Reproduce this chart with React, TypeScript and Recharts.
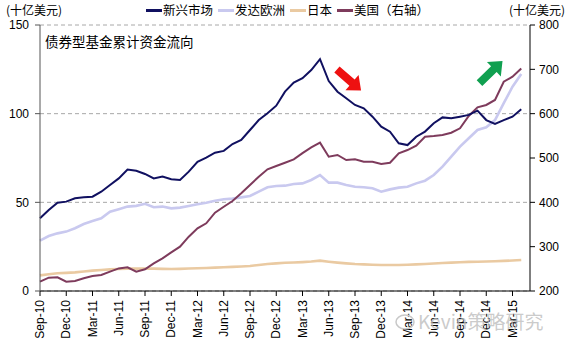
import React from 'react'
import { LineChart, Line, XAxis, YAxis, CartesianGrid } from 'recharts'

// month labels, Sep-10 .. Apr-15
const months = [
  'Sep-10', 'Oct-10', 'Nov-10', 'Dec-10',
  'Jan-11', 'Feb-11', 'Mar-11', 'Apr-11', 'May-11', 'Jun-11', 'Jul-11', 'Aug-11', 'Sep-11', 'Oct-11', 'Nov-11', 'Dec-11',
  'Jan-12', 'Feb-12', 'Mar-12', 'Apr-12', 'May-12', 'Jun-12', 'Jul-12', 'Aug-12', 'Sep-12', 'Oct-12', 'Nov-12', 'Dec-12',
  'Jan-13', 'Feb-13', 'Mar-13', 'Apr-13', 'May-13', 'Jun-13', 'Jul-13', 'Aug-13', 'Sep-13', 'Oct-13', 'Nov-13', 'Dec-13',
  'Jan-14', 'Feb-14', 'Mar-14', 'Apr-14', 'May-14', 'Jun-14', 'Jul-14', 'Aug-14', 'Sep-14', 'Oct-14', 'Nov-14', 'Dec-14',
  'Jan-15', 'Feb-15', 'Mar-15', 'Apr-15',
]

// 新兴市场 (left axis, bn USD)
const emerging = [
  41.0, 45.7, 49.8, 50.4, 52.3, 52.8, 53.2, 56.0, 59.8, 63.5, 68.5, 67.8, 66.0, 63.5, 64.5, 63.0,
  62.6, 67.3, 72.9, 75.2, 78.0, 79.0, 82.9, 85.2, 90.8, 96.4, 100.2, 104.5, 112.4, 117.5, 120.0, 124.6,
  130.7, 118.4, 112.4, 108.7, 104.9, 103.0, 98.3, 92.7, 89.8, 83.3, 82.3, 87.0, 89.9, 94.6, 97.9, 97.4,
  98.3, 99.3, 101.7, 96.4, 94.2, 96.4, 98.3, 102.5,
]

// 发达欧洲 (left axis)
const europe = [
  28.4, 31.0, 32.5, 33.5, 35.4, 37.8, 39.5, 41.0, 44.7, 46.1, 47.6, 48.0, 49.2, 47.2, 47.6, 46.6,
  47.0, 47.9, 48.9, 49.8, 50.9, 51.7, 52.1, 52.8, 53.6, 56.0, 58.5, 59.2, 59.4, 60.3, 60.7, 62.6,
  65.4, 61.1, 61.1, 59.8, 58.8, 58.5, 57.9, 56.0, 57.3, 58.3, 58.8, 60.7, 62.2, 65.4, 70.1, 75.8,
  81.4, 86.1, 90.8, 92.3, 96.4, 105.9, 115.2, 122.4,
]

// 日本 (left axis)
const japan = [
  8.8, 9.4, 10.0, 10.2, 10.5, 11.0, 11.5, 11.8, 12.2, 12.4, 12.6, 12.6, 12.6, 12.6, 12.5, 12.4,
  12.5, 12.7, 12.8, 13.0, 13.2, 13.4, 13.6, 13.8, 14.1, 14.7, 15.2, 15.6, 15.9, 16.1, 16.3, 16.6,
  17.1, 16.5, 16.0, 15.6, 15.2, 15.0, 14.8, 14.7, 14.7, 14.7, 14.8, 15.0, 15.2, 15.5, 15.8, 16.0,
  16.2, 16.4, 16.5, 16.6, 16.8, 17.0, 17.2, 17.5,
]

// 美国 (right axis)
const usa = [
  221, 230, 231, 221, 222.6, 228.6, 233.8, 236, 243.6, 251, 253.4, 243.6, 249, 262.4, 273.8, 287,
  300, 322.5, 341.4, 352.7, 376.6, 390, 403, 420.4, 439, 457.8, 474.5, 482, 489.4, 497, 511, 524,
  534.6, 503, 506.8, 495.5, 497, 491.7, 491.7, 486.5, 489.4, 510.6, 518, 528, 548, 549.7, 552, 557,
  567, 594.8, 614.4, 619.6, 631, 672, 683.4, 702,
]

const leftTicks = [0, 50, 100, 150]
const rightTicks = [200, 300, 400, 500, 600, 700, 800]
const quarterMonths = ['Sep', 'Dec', 'Mar', 'Jun']

const seriesInfo = [
  { key: 'emerging', name: '新兴市场', color: '#101060' },
  { key: 'europe', name: '发达欧洲', color: '#c9c9ef' },
  { key: 'japan', name: '日本', color: '#eacaa2' },
  { key: 'usa', name: '美国（右轴）', color: '#7e3b5c' },
]

const data = months.map((m, i) => ({
  idx: i,
  month: m,
  emerging: emerging[i],
  europe: europe[i],
  japan: japan[i],
  usa: usa[i],
}))

const xTicks = data.filter((d) => quarterMonths.includes(d.month.slice(0, 3))).map((d) => d.idx)

const numFont = '"Liberation Sans", Arial, sans-serif'
const cjkFont = '"Noto Sans CJK SC", "Noto Sans", sans-serif'

const MonthTick = ({ x, y, payload }: any) => (
  <text
    x={x + 4}
    y={y + 1}
    transform={`rotate(-90, ${x + 4}, ${y + 1})`}
    textAnchor="end"
    fontSize={12}
    fontFamily={numFont}
    fill="#000"
  >
    {months[payload.value]}
  </text>
)

const Arrow = ({ cx, cy, angle, color }: any) => (
  <g transform={`translate(${cx} ${cy}) rotate(${angle})`}>
    <polygon points="-16,-4 4,-4 4,-10 16,0 4,10 4,4 -16,4" fill={color} />
  </g>
)

export default function App() {
  return (
    <div style={{ position: 'absolute', left: 0, top: 0, width: 575, height: 358, background: '#fff' }}>
      <LineChart
        width={575}
        height={358}
        data={data}
        margin={{ top: 25, right: 0, left: 0, bottom: 0 }}
      >
        <CartesianGrid
          yAxisId="left"
          horizontal
          vertical={false}
          stroke="#a8a8a8"
          strokeDasharray="4 3"
        />
        <XAxis
          dataKey="idx"
          type="number"
          domain={[0, 56]}
          ticks={xTicks}
          interval={0}
          height={67}
          tickSize={5}
          tickMargin={3}
          tick={<MonthTick />}
          axisLine={{ stroke: '#000' }}
          tickLine={{ stroke: '#000' }}
        />
        <YAxis
          yAxisId="left"
          domain={[0, 150]}
          ticks={leftTicks}
          width={40}
          tickSize={5}
          tickMargin={6}
          tick={{ fontSize: 12, fontFamily: numFont, fill: '#000' }}
          axisLine={{ stroke: '#555' }}
          tickLine={{ stroke: '#555' }}
        />
        <YAxis
          yAxisId="right"
          orientation="right"
          domain={[200, 800]}
          ticks={rightTicks}
          width={45}
          tickSize={5}
          tickMargin={4}
          tick={{ fontSize: 12, fontFamily: numFont, fill: '#000', textAnchor: 'start' }}
          axisLine={{ stroke: '#000' }}
          tickLine={{ stroke: '#000' }}
        />
        <Line yAxisId="left" dataKey="japan" stroke="#eacaa2" strokeWidth={2.6} dot={false} isAnimationActive={false} />
        <Line yAxisId="left" dataKey="europe" stroke="#c9c9ef" strokeWidth={2.6} dot={false} isAnimationActive={false} />
        <Line yAxisId="right" dataKey="usa" stroke="#7e3b5c" strokeWidth={2} dot={false} isAnimationActive={false} />
        <Line yAxisId="left" dataKey="emerging" stroke="#101060" strokeWidth={2} dot={false} isAnimationActive={false} />
      </LineChart>

      {/* units */}
      <div style={{ position: 'absolute', left: 6, top: 4, fontSize: 12, lineHeight: 1, fontFamily: cjkFont, color: '#000' }}>
        (十亿美元)
      </div>
      <div style={{ position: 'absolute', left: 509, top: 4, fontSize: 12, lineHeight: 1, fontFamily: cjkFont, color: '#000' }}>
        (十亿美元)
      </div>

      {/* legend */}
      <div
        style={{
          position: 'absolute',
          left: 146,
          top: 4,
          display: 'flex',
          alignItems: 'center',
          fontSize: 12.5,
          lineHeight: 1,
          fontFamily: cjkFont,
          color: '#000',
          whiteSpace: 'nowrap',
        }}
      >
        {seriesInfo.map((s) => (
          <div key={s.key} style={{ display: 'flex', alignItems: 'center', marginRight: 5 }}>
            <span style={{ display: 'inline-block', width: 16, height: 3, background: s.color, marginRight: 1 }} />
            <span>{s.name}</span>
          </div>
        ))}
      </div>

      {/* title inside plot */}
      <div style={{ position: 'absolute', left: 45, top: 31, fontSize: 13.5, fontFamily: cjkFont, color: '#000' }}>
        债券型基金累计资金流向
      </div>

      {/* annotation arrows + watermark */}
      <svg width={575} height={358} style={{ position: 'absolute', left: 0, top: 0, pointerEvents: 'none' }}>
        <Arrow cx={349} cy={80} angle={41} color="#ee1111" />
        <Arrow cx={491} cy={72} angle={-44} color="#10a050" />
        <ellipse cx={405} cy={322} rx={9} ry={7} fill="none" stroke="#c8c8c8" strokeWidth={1.5} />
        <text x={418} y={329} fontSize={19} fontFamily={cjkFont} fill="#bdbdbd" fillOpacity={0.8}>
          Kevin策略研究
        </text>
      </svg>
    </div>
  )
}
